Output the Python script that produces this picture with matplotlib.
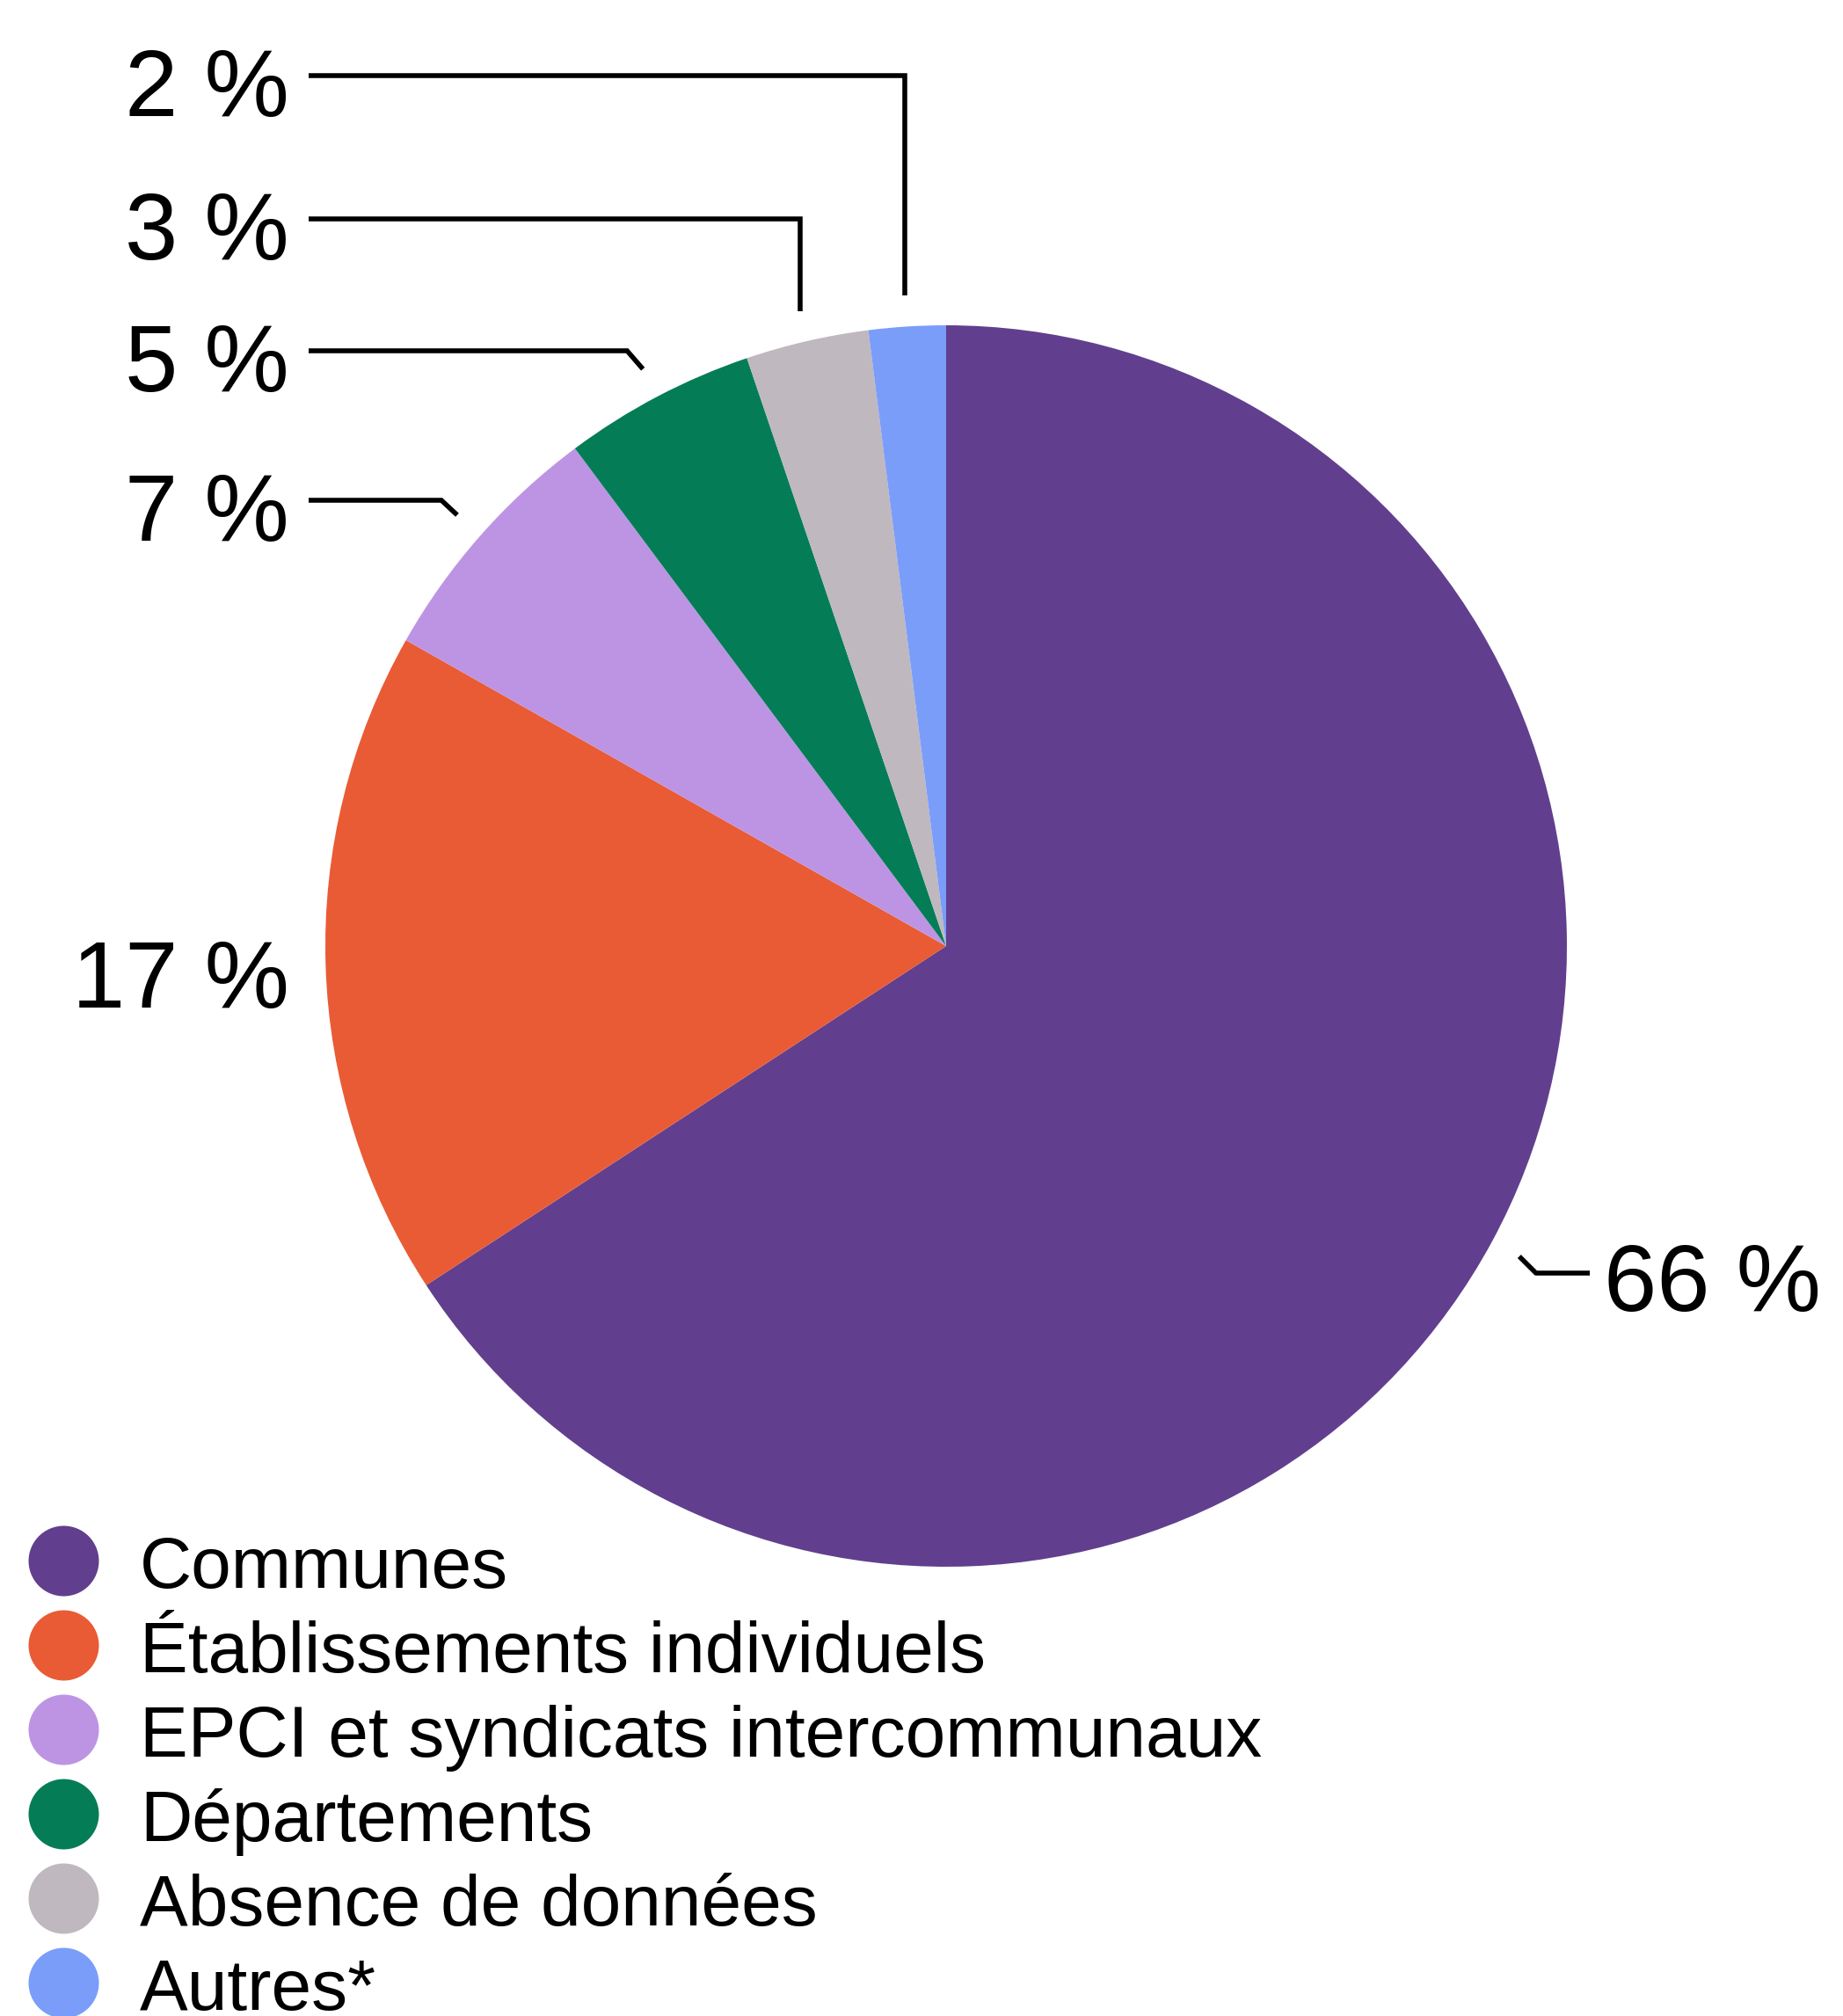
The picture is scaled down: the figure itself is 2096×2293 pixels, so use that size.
import numpy as np
import matplotlib
matplotlib.use("Agg")
from matplotlib import pyplot as plt

plt.rcParams['font.family'] = ['Liberation Sans', 'DejaVu Sans']

# data
categories = ['Communes', 'Établissements individuels', 'EPCI et syndicats intercommunaux',
              'Départements', 'Absence de données', 'Autres*']
shares = [65.8, 17.4, 6.6, 5.0, 3.2, 2.0]
share_labels = ['66 %', '17 %', '7 %', '5 %', '3 %', '2 %']
colors = ['#613f8e', '#e95b35', '#bd94e3', '#047d57', '#bfb8be', '#7a9df9']

W, H = 2096, 2293
fig = plt.figure(figsize=(W / 100, H / 100), dpi=100)
ax = fig.add_axes([0, 0, 1, 1])

cx, cy, R = 1076, H - 1076, 706
wedges, _ = ax.pie(shares, colors=colors, startangle=90, counterclock=False,
                   radius=R, center=(cx, cy), wedgeprops=dict(linewidth=0))
ax.set_xlim(0, W)
ax.set_ylim(0, H)
ax.set_aspect('equal')
ax.axis('off')

# label layout: (index, kind, line y from top)
left_x = 351
lab_size = 78
layout = [(5, 'v', 86), (4, 'v', 249), (3, 'd', 399), (2, 'd', 569)]

def anchor(w):
    t = np.radians((w.theta1 + w.theta2) / 2)
    return cx + 1.05 * R * np.cos(t), cy + 1.05 * R * np.sin(t)

for i, kind, ly in layout:
    px, py = anchor(wedges[i])
    y = H - ly
    if kind == 'v':
        xs, ys = [px, px, left_x], [py, y, y]
    else:
        xs, ys = [px, px - 18, left_x], [py, y, y]
    ax.plot(xs, ys, color='black', lw=4, solid_capstyle='butt', solid_joinstyle='miter')
    ax.text(329, y - 46, share_labels[i], ha='right', va='baseline', fontsize=lab_size)

# 17 %
ax.text(329, H - 1146, share_labels[1], ha='right', va='baseline', fontsize=lab_size)

# 66 %
px, py = anchor(wedges[0])
y = H - 1448
ax.plot([px, px + 19, 1808], [py, y, y], color='black', lw=4, solid_capstyle='butt')
ax.text(1824, y - 43, share_labels[0], ha='left', va='baseline', fontsize=lab_size)

# legend
row0, step = 1775, 96
for k, (name, c) in enumerate(zip(categories, colors)):
    yy = H - (row0 + k * step)
    ax.scatter([72], [yy], s=(80 * 0.72) ** 2, color=c, linewidths=0, clip_on=False)
    ax.text(159, yy - 31, name, ha='left', va='baseline', fontsize=59)

fig.savefig('out.png', dpi=100, facecolor='white')
